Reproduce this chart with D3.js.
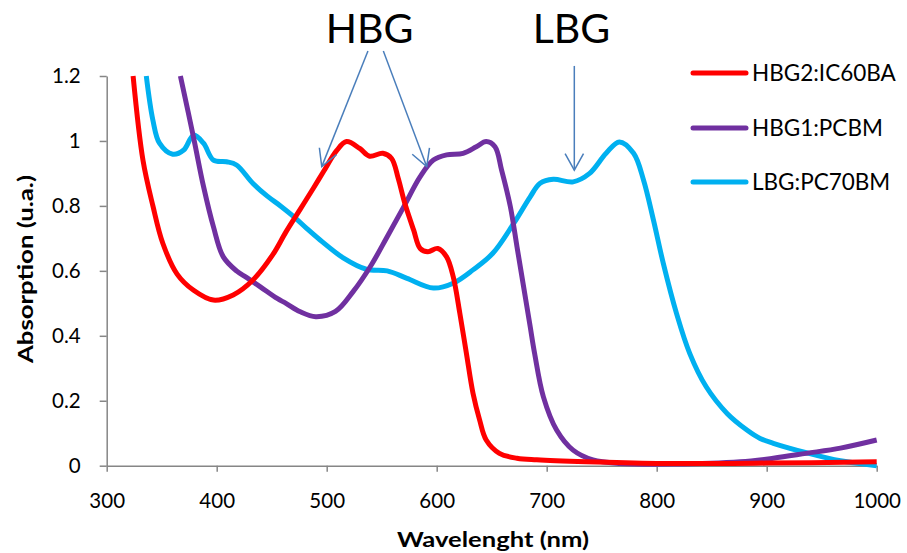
<!DOCTYPE html>
<html>
<head>
<meta charset="utf-8">
<script src="https://cdn.jsdelivr.net/npm/d3@7"></script>
<style>
  html, body { margin: 0; padding: 0; background: #fff; }
  svg { display: block; font-family: Lato, "Open Sans", sans-serif; }
</style>
</head>
<body>
<svg id="chart" width="907" height="553"></svg>
<script>
// Absorption spectra of three blends (wavelength in nm, absorption in u.a.)
const hbg2Wl  = [324, 333, 342, 351, 364, 379, 397, 415, 433, 451, 463, 476, 488, 497, 509, 518, 530, 539, 551, 559, 565, 571, 579, 585, 592, 601, 609, 615, 621, 627, 633, 639, 645, 657, 673, 691, 736, 800, 900, 1000];
const hbg2Abs = [1.2, 0.94, 0.80, 0.685, 0.59, 0.54, 0.51, 0.526, 0.572, 0.65, 0.72, 0.79, 0.855, 0.905, 0.97, 0.998, 0.977, 0.953, 0.962, 0.946, 0.885, 0.808, 0.726, 0.669, 0.659, 0.669, 0.643, 0.582, 0.47, 0.346, 0.223, 0.141, 0.079, 0.038, 0.023, 0.018, 0.012, 0.007, 0.008, 0.012];

const hbg1Wl  = [367, 379, 388, 397, 406, 418, 427, 440, 455, 463, 476, 490, 508, 524, 540, 555, 570, 585, 597, 609, 624, 636, 645, 653, 659, 667, 673, 679, 685, 689, 697, 709, 724, 742, 767, 815, 876, 906, 936, 967, 1000];
const hbg1Abs = [1.2, 1.01, 0.86, 0.736, 0.643, 0.60, 0.58, 0.55, 0.515, 0.50, 0.474, 0.459, 0.475, 0.536, 0.615, 0.705, 0.797, 0.89, 0.941, 0.957, 0.962, 0.982, 0.998, 0.982, 0.91, 0.797, 0.674, 0.551, 0.428, 0.346, 0.212, 0.11, 0.048, 0.018, 0.007, 0.005, 0.012, 0.023, 0.038, 0.054, 0.079];

const lbgWl  = [336, 342, 348, 360, 370, 379, 388, 397, 409, 418, 433, 446, 458, 470, 482, 494, 515, 536, 555, 573, 597, 615, 633, 651, 670, 685, 694, 706, 724, 739, 754, 766, 779, 788, 797, 806, 818, 830, 845, 864, 882, 894, 906, 936, 967, 1000];
const lbgAbs = [1.2, 1.064, 0.993, 0.959, 0.972, 1.018, 0.993, 0.941, 0.936, 0.926, 0.869, 0.83, 0.80, 0.767, 0.73, 0.695, 0.64, 0.605, 0.60, 0.577, 0.547, 0.562, 0.603, 0.654, 0.746, 0.828, 0.87, 0.882, 0.874, 0.9, 0.962, 0.997, 0.962, 0.88, 0.757, 0.623, 0.469, 0.346, 0.243, 0.161, 0.11, 0.084, 0.069, 0.04, 0.015, 0.0];

const seriesNames  = ["HBG2:IC60BA", "HBG1:PCBM", "LBG:PC70BM"];
const seriesColors = ["#FF0000", "#7030A0", "#00B0F0"];

const xTicks = [300, 400, 500, 600, 700, 800, 900, 1000];
const yTicks = [0, 0.2, 0.4, 0.6, 0.8, 1, 1.2];

// Band-gap annotations: label position and arrows (start -> tip) in data units
const bandLabels = [
  { text: "HBG", wl: 539, abs: 1.301 },
  { text: "LBG", wl: 722.5, abs: 1.301 }
];
const bandArrows = [
  { from: [537.5, 1.277], to: [495.5, 0.921] },
  { from: [551.5, 1.277], to: [590.9, 0.921] },
  { from: [725.1, 1.231], to: [725.1, 0.910] }
];

const svg = d3.select("#chart");
const x = d3.scaleLinear().domain([300, 1000]).range([106.7, 876.7]);
const y = d3.scaleLinear().domain([0, 1.2]).range([465.7, 76]);
const axisColor = "#868686";

// Axes
const gx = svg.append("g").attr("transform", `translate(0,${y(0)})`)
  .call(d3.axisBottom(x).tickValues(xTicks).tickFormat(d3.format("d")).tickSize(6).tickPadding(22).tickSizeOuter(0));
const gy = svg.append("g").attr("transform", `translate(${x(300)},0)`)
  .call(d3.axisLeft(y).tickValues(yTicks).tickFormat(d => d === 0 ? "0" : (d === 1 ? "1" : d3.format(".1f")(d))).tickSize(7).tickPadding(19).tickSizeOuter(0));
[gx, gy].forEach(g => {
  g.select(".domain").attr("stroke", axisColor).attr("stroke-width", 1.5);
  g.selectAll(".tick line").attr("stroke", axisColor).attr("stroke-width", 1.5);
  g.selectAll(".tick text").attr("fill", "#000").style("font-size", "20.5px").style("font-family", "Lato, sans-serif");
});

// Axis titles
svg.append("text").attr("x", 493).attr("y", 547).attr("text-anchor", "middle")
  .attr("textLength", 192).attr("lengthAdjust", "spacingAndGlyphs")
  .style("font-size", "21.5px").style("font-weight", "bold").text("Wavelenght (nm)");
svg.append("text").attr("transform", "translate(33,269) rotate(-90)").attr("text-anchor", "middle")
  .attr("textLength", 188).attr("lengthAdjust", "spacingAndGlyphs")
  .style("font-size", "21.5px").style("font-weight", "bold").text("Absorption (u.a.)");

// Spectra
const line = d3.line().x(d => x(d[0])).y(d => y(d[1])).curve(d3.curveCatmullRom.alpha(0.5));
const spectra = [
  d3.zip(hbg2Wl, hbg2Abs),
  d3.zip(hbg1Wl, hbg1Abs),
  d3.zip(lbgWl, lbgAbs)
];
// draw order: cyan first, then purple, then red on top near the baseline
[2, 1, 0].forEach(i => {
  svg.append("path").datum(spectra[i]).attr("d", line)
    .attr("fill", "none").attr("stroke", seriesColors[i]).attr("stroke-width", 5)
    .attr("stroke-linejoin", "round");
});

// Legend
const legendY = [73, 128, 182];
seriesNames.forEach((name, i) => {
  svg.append("line").attr("x1", 693).attr("x2", 746).attr("y1", legendY[i]).attr("y2", legendY[i])
    .attr("stroke", seriesColors[i]).attr("stroke-width", 5).attr("stroke-linecap", "round");
  svg.append("text").attr("x", 752).attr("y", legendY[i] + 8)
    .style("font-size", "22.5px").text(name);
});

// Band-gap labels and arrows
bandLabels.forEach(l => {
  svg.append("text").attr("x", x(l.wl)).attr("y", y(l.abs)).attr("text-anchor", "middle")
    .style("font-size", "41px").text(l.text);
});
const arrowColor = "#4A7EBB";
bandArrows.forEach(a => {
  const x1 = x(a.from[0]), y1 = y(a.from[1]), x2 = x(a.to[0]), y2 = y(a.to[1]);
  svg.append("line").attr("x1", x1).attr("y1", y1).attr("x2", x2).attr("y2", y2)
    .attr("stroke", arrowColor).attr("stroke-width", 1.5);
  const ang = Math.atan2(y2 - y1, x2 - x1), L = 19, th = 29 * Math.PI / 180;
  const w1 = [x2 - L * Math.cos(ang - th), y2 - L * Math.sin(ang - th)];
  const w2 = [x2 - L * Math.cos(ang + th), y2 - L * Math.sin(ang + th)];
  svg.append("path").attr("d", `M${w1[0]},${w1[1]}L${x2},${y2}L${w2[0]},${w2[1]}`)
    .attr("fill", "none").attr("stroke", arrowColor).attr("stroke-width", 1.5);
});
</script>
</body>
</html>
